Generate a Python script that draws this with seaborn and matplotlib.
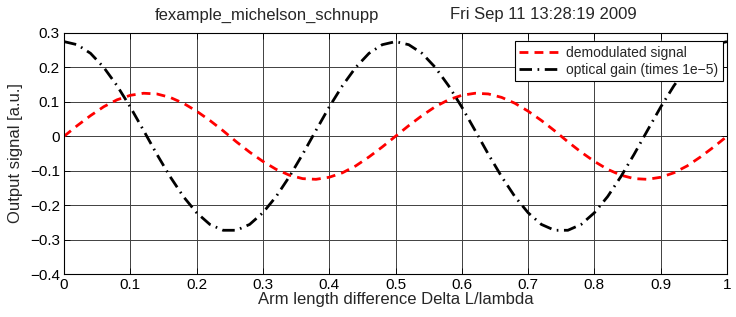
import numpy as np
import pandas as pd
import matplotlib.pyplot as plt
import seaborn as sns

arm_length = [round(0.02 * i, 2) for i in range(51)]

demod_half = [0.000, 0.031, 0.060, 0.086, 0.106, 0.119, 0.125, 0.123, 0.113, 0.096,
              0.073, 0.046, 0.016, -0.016, -0.046, -0.073, -0.096, -0.113, -0.123,
              -0.125, -0.119, -0.106, -0.086, -0.060, -0.031]
demod_signal = demod_half + demod_half + [0.000]

gain_half = [0.275, 0.266, 0.241, 0.200, 0.147, 0.085, 0.017, -0.052, -0.117, -0.175,
             -0.222, -0.256, -0.273, -0.273, -0.256, -0.222, -0.175, -0.117, -0.052,
             0.017, 0.085, 0.147, 0.200, 0.241, 0.266]
optical_gain = gain_half + gain_half + [0.275]

x_ticks = [0, 0.1, 0.2, 0.3, 0.4, 0.5, 0.6, 0.7, 0.8, 0.9, 1]
x_labels = ['0', '0.1', '0.2', '0.3', '0.4', '0.5', '0.6', '0.7', '0.8', '0.9', '1']
y_ticks = [-0.4, -0.3, -0.2, -0.1, 0, 0.1, 0.2, 0.3]
y_labels = ['\u22120.4', '\u22120.3', '\u22120.2', '\u22120.1', '0', '0.1', '0.2', '0.3']

sns.set_theme(style="whitegrid")
plt.rcParams['font.family'] = ['Liberation Sans', 'DejaVu Sans']

df = pd.DataFrame({'x': arm_length, 'demod': demod_signal, 'gain': optical_gain})

W, H = 736, 317
fig = plt.figure(figsize=(W / 100, H / 100), dpi=100)
ax = fig.add_axes([64 / W, 1 - 274 / H, (727 - 64) / W, (274 - 33) / H])

sns.lineplot(data=df, x='x', y='demod', ax=ax, color='red', linewidth=2.0,
             linestyle=(0, (3.2, 2.2)), label='demodulated signal')
sns.lineplot(data=df, x='x', y='gain', ax=ax, color='black', linewidth=2.0,
             linestyle=(0, (4.5, 2, 0.6, 2)), label='optical gain (times 1e\u22125)')

ax.set_xlim(0, 1)
ax.set_ylim(-0.4, 0.3)
ax.set_xticks(x_ticks)
ax.set_xticklabels(x_labels)
ax.set_yticks(y_ticks)
ax.set_yticklabels(y_labels)
ax.set_facecolor('white')
ax.grid(True, color='#404040', linewidth=0.7, linestyle='-')
for s in ax.spines.values():
    s.set_color('black')
    s.set_linewidth(0.8)
ax.tick_params(axis='both', direction='in', length=4, width=0.6, colors='black',
               labelsize=11, pad=3, top=True, right=True, bottom=True, left=True)
ax.set_xlabel('Arm length difference Delta L/lambda', fontsize=12, labelpad=0)
ax.set_ylabel('Output signal [a.u.]', fontsize=12, labelpad=5)

leg = ax.legend(loc='upper right', bbox_to_anchor=(723 / W, 1 - 41 / H),
                bbox_transform=fig.transFigure, borderaxespad=0,
                fontsize=10, frameon=True, fancybox=False,
                handlelength=3.0, handletextpad=0.35,
                borderpad=0.35, labelspacing=0.2)
leg.get_frame().set_edgecolor('black')
leg.get_frame().set_linewidth(0.8)
leg.get_frame().set_alpha(1)

fig.text(155 / W, 1 - 15 / H, 'fexample_michelson_schnupp', fontsize=12, ha='left', va='center')
fig.text(450 / W, 1 - 15 / H, 'Fri Sep 11 13:28:19 2009', fontsize=12, ha='left', va='center')

fig.savefig('out.png', dpi=100, facecolor='white')
